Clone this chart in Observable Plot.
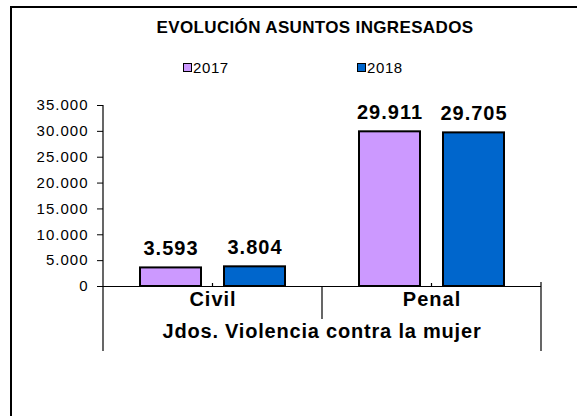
<!DOCTYPE html>
<html>
<head>
<meta charset="utf-8">
<script src="https://cdn.jsdelivr.net/npm/d3@7"></script>
<script src="https://cdn.jsdelivr.net/npm/@observablehq/plot@0.6"></script>
<style>
  html, body { margin: 0; padding: 0; background: #fff; }
  #wrap { position: relative; width: 577px; height: 416px; overflow: hidden; font-family: "Liberation Sans", Arial, sans-serif; color: #000; }
  #border { position: absolute; left: 10px; top: 6px; width: 700px; height: 500px; border-left: 2px solid #000; border-top: 2px solid #000; box-sizing: border-box; }
  #title { position: absolute; top: 19px; left: 315px; transform: translateX(-50%); font-weight: bold; font-size: 17px; line-height: 17px; letter-spacing: 0.35px; white-space: nowrap; }
  .leg { position: absolute; top: 60px; font-size: 15px; line-height: 15px; letter-spacing: 0.6px; white-space: nowrap; display: flex; align-items: center; }
  .sw { width: 9px; height: 9px; border: 1.5px solid #000; box-sizing: border-box; margin-right: 1px; }
  #chart { position: absolute; left: 0; top: 90px; }
  #chart svg text { letter-spacing: 1px; }
</style>
</head>
<body>
<div id="wrap">
  <div id="border"></div>
  <div id="title"></div>
  <div id="legend"></div>
  <div id="chart"></div>
</div>
<script>
// ---- data ----
const title = "EVOLUCIÓN ASUNTOS INGRESADOS";
const groupLabel = "Jdos. Violencia contra la mujer";
const categories = ["Civil", "Penal"];
const years = ["2017", "2018"];
const values2017 = [3593, 29911];
const values2018 = [3804, 29705];
const colors = ["#CC99FF", "#0066CC"];
const yTicks = [0, 5000, 10000, 15000, 20000, 25000, 30000, 35000];

// ---- build ----
const es = d3.formatLocale({decimal: ",", thousands: ".", grouping: [3], currency: ["", "€"]});
const fmt = es.format(",d");

const rows = [];
categories.forEach((c, i) => {
  rows.push({cat: c, year: years[0], value: values2017[i]});
  rows.push({cat: c, year: years[1], value: values2018[i]});
});

document.getElementById("title").textContent = title;
const legendX = [183, 357];
const legend = document.getElementById("legend");
years.forEach((y, i) => {
  const item = document.createElement("div");
  item.className = "leg";
  item.style.left = legendX[i] + "px";
  const sw = document.createElement("div");
  sw.className = "sw";
  sw.style.background = colors[i];
  const t = document.createElement("span");
  t.textContent = y;
  item.appendChild(sw);
  item.appendChild(t);
  legend.appendChild(item);
});

const plot = Plot.plot({
  width: 577,
  height: 326,
  marginLeft: 103,
  marginRight: 36,
  marginTop: 15,
  marginBottom: 130,
  style: {fontFamily: "'Liberation Sans', Arial, sans-serif", fontSize: "15px", color: "#000", background: "transparent", overflow: "visible"},
  fx: {domain: categories, padding: 0, axis: null},
  x: {domain: years, paddingInner: 0.27, paddingOuter: 0.43, axis: null},
  y: {domain: [0, 35000], ticks: yTicks, tickFormat: fmt, tickSize: 6, tickPadding: 9, label: null},
  color: {domain: years, range: colors},
  marks: [
    Plot.barY(rows, {fx: "cat", x: "year", y: "value", fill: "year", stroke: "#000", strokeWidth: 2}),
    Plot.ruleY([0], {stroke: "#000", strokeWidth: 1}),
    Plot.text(rows, {fx: "cat", x: "year", y: "value", text: d => fmt(d.value), dy: -19, fontWeight: "bold", fontSize: 20}),
    Plot.text(categories, {fx: d => d, text: d => d, frameAnchor: "bottom", dy: 19, fontWeight: "bold", fontSize: 20})
  ]
});
document.getElementById("chart").appendChild(plot);

// frame decorations from the scales
const svg = d3.select(plot);
const fx = plot.scale("fx");
const ys = plot.scale("y");
const y0 = ys.apply(0), yTop = ys.apply(yTicks[yTicks.length - 1]);
const bw = fx.bandwidth;
const left = fx.apply(categories[0]);
const right = fx.apply(categories[categories.length - 1]) + bw;
const g = svg.append("g").attr("stroke", "#000").attr("stroke-width", 1.2);
g.append("line").attr("x1", left).attr("x2", left).attr("y1", yTop).attr("y2", y0 + 65);
g.append("line").attr("x1", right).attr("x2", right).attr("y1", y0 - 4).attr("y2", y0 + 65);
categories.slice(1).forEach(c => {
  const x = fx.apply(c);
  g.append("line").attr("x1", x).attr("x2", x).attr("y1", y0).attr("y2", y0 + 33);
});
categories.forEach(c => {
  const x = fx.apply(c) + bw / 2;
  g.append("line").attr("x1", x).attr("x2", x).attr("y1", y0 - 3).attr("y2", y0);
});
svg.append("text")
  .attr("x", (left + right) / 2).attr("y", y0 + 52)
  .attr("text-anchor", "middle")
  .attr("font-weight", "bold").attr("font-size", 20)
  .style("letter-spacing", "0.8px")
  .attr("fill", "#000")
  .text(groupLabel);
</script>
</body>
</html>
